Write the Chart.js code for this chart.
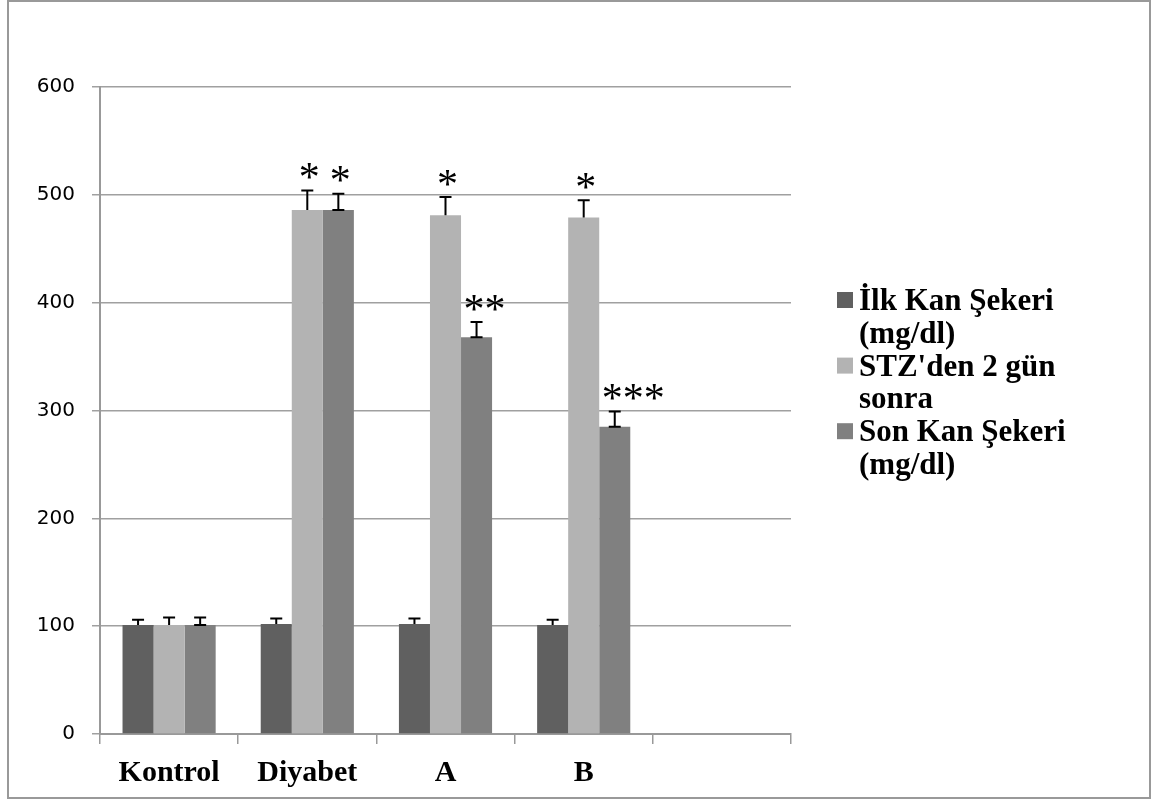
<!DOCTYPE html>
<html lang="tr">
<head>
  <meta charset="UTF-8" />
  <title>Kan Şekeri</title>
  <script src="https://cdn.jsdelivr.net/npm/chart.js"></script>
  <style>
    body { margin: 0; background: #fff; }
    #wrap { position: relative; width: 1161px; height: 800px; }
  </style>
</head>
<body>
  <div id="wrap"><canvas id="chart" width="1161" height="800"></canvas></div>

  <script>
    const categories = ['Kontrol', 'Diyabet', 'A', 'B', ''];
    const seriesNames = ['İlk Kan Şekeri (mg/dl)', "STZ'den 2 gün sonra", 'Son Kan Şekeri (mg/dl)'];
    const legendLines = [['İlk Kan Şekeri', '(mg/dl)'], ["STZ'den 2 gün", 'sonra'], ['Son Kan Şekeri', '(mg/dl)']];
    const colors = ['#606060', '#b3b3b3', '#808080'];

    const ilkKan = [101, 102, 102, 101, null];
    const stz2gun = [101, 486, 481, 479, null];
    const sonKan = [101, 486, 368, 285, null];

    const ilkErr = [5, 5, 5, 5, null];
    const stzErr = [7, 18, 17, 16, null];
    const sonErr = [7, 15, 14, 14, null];

    // significance marks: category index, series index, text
    const stars = [
      [1, 1, '*'], [1, 2, '*'],
      [2, 1, '*'], [2, 2, '**'],
      [3, 1, '*'], [3, 2, '***']
    ];

    const errors = [ilkErr, stzErr, sonErr];

    // frame round the whole picture
    const framePlugin = {
      id: 'frame',
      beforeDraw(chart) {
        const ctx = chart.ctx;
        ctx.save();
        ctx.fillStyle = '#fff';
        ctx.fillRect(0, 0, chart.width, chart.height);
        ctx.strokeStyle = '#999';
        ctx.lineWidth = 2;
        ctx.strokeRect(8, 1, 1142, 797);
        ctx.restore();
      }
    };

    const errorBarPlugin = {
      id: 'errorBars',
      afterDatasetsDraw(chart) {
        const ctx = chart.ctx;
        const y = chart.scales.y;
        ctx.save();
        ctx.strokeStyle = '#000';
        chart.data.datasets.forEach((ds, di) => {
          const meta = chart.getDatasetMeta(di);
          meta.data.forEach((bar, i) => {
            const v = ds.data[i];
            const e = errors[di][i];
            if (v == null || e == null) return;
            const top = y.getPixelForValue(v + e);
            ctx.lineWidth = 2;
            ctx.beginPath();
            ctx.moveTo(bar.x, bar.y);
            ctx.lineTo(bar.x, top);
            ctx.moveTo(bar.x - 6, top);
            ctx.lineTo(bar.x + 6, top);
            if (di === 2) {
              ctx.moveTo(bar.x - 6, bar.y);
              ctx.lineTo(bar.x + 6, bar.y);
            }
            ctx.stroke();
          });
        });

        // asterisks above the error bars
        const fs = 42;
        ctx.fillStyle = '#000';
        ctx.font = fs + 'px "Liberation Serif"';
        ctx.textBaseline = 'alphabetic';
        stars.forEach(([ci, si, txt]) => {
          const bar = chart.getDatasetMeta(si).data[ci];
          const v = chart.data.datasets[si].data[ci] + errors[si][ci];
          const cy = y.getPixelForValue(v) - 19;
          const base = cy + 0.47 * fs;
          if (txt.length === 1) {
            ctx.textAlign = 'center';
            ctx.fillText(txt, bar.x + 2, base);
          } else {
            ctx.textAlign = 'left';
            ctx.fillText(txt, bar.x - 13, base);
          }
        });
        ctx.restore();
      }
    };

    const legendPlugin = {
      id: 'sideLegend',
      afterDraw(chart) {
        const ctx = chart.ctx;
        ctx.save();
        ctx.font = 'bold 31px "Liberation Serif"';
        ctx.textAlign = 'left';
        ctx.textBaseline = 'alphabetic';
        const lh = 32.8;
        legendLines.forEach((lines, i) => {
          const base = 310 + i * 2 * lh;
          ctx.fillStyle = colors[i];
          ctx.fillRect(837, base - 18, 16, 16);
          ctx.fillStyle = '#000';
          lines.forEach((t, k) => ctx.fillText(t, 859, base + k * lh));
        });
        ctx.restore();
      }
    };

    const ctx = document.getElementById('chart').getContext('2d');
    new Chart(ctx, {
      type: 'bar',
      data: {
        labels: categories,
        datasets: [
          { label: seriesNames[0], data: ilkKan, backgroundColor: colors[0] },
          { label: seriesNames[1], data: stz2gun, backgroundColor: colors[1] },
          { label: seriesNames[2], data: sonKan, backgroundColor: colors[2] }
        ]
      },
      options: {
        responsive: false,
        animation: false,
        devicePixelRatio: 1,
        categoryPercentage: 0.674,
        barPercentage: 1,
        layout: { padding: { left: 0, right: 370, top: 87, bottom: 0 } },
        plugins: {
          legend: { display: false },
          tooltip: { enabled: false }
        },
        scales: {
          x: {
            grid: { drawOnChartArea: false, drawTicks: true, tickLength: 10, color: '#999', lineWidth: 1.5 },
            border: { color: '#999', width: 2 },
            ticks: { color: '#000', padding: 11, font: { family: 'Liberation Serif', weight: 'bold', size: 30 } },
            afterFit(s) { s.height = 66; }
          },
          y: {
            min: 0,
            max: 600,
            grid: { color: '#a0a0a0', lineWidth: 1.5, tickLength: 8 },
            border: { color: '#999', width: 2 },
            ticks: { stepSize: 100, color: '#000', padding: 17, font: { family: 'DejaVu Sans', size: 20 } },
            afterFit(s) { s.width = 100; }
          }
        }
      },
      plugins: [framePlugin, errorBarPlugin, legendPlugin]
    });
  </script>
</body>
</html>
